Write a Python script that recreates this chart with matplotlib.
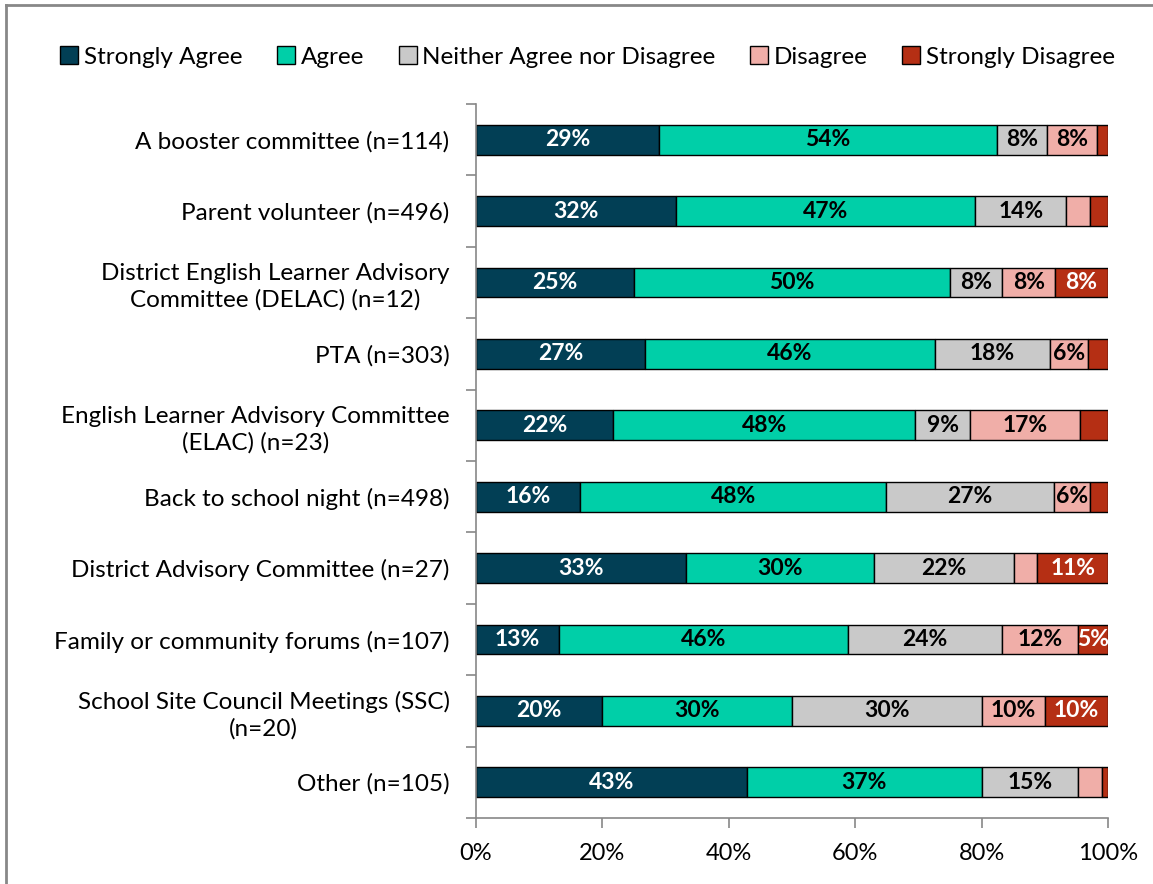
#!/usr/bin/env python3
"""Stacked horizontal bar chart of agreement by meeting type."""

import matplotlib
matplotlib.use("Agg")
import matplotlib.pyplot as plt
from matplotlib.lines import Line2D
from matplotlib.ticker import FuncFormatter, FixedLocator
import numpy as np

categories = [
    "A booster committee (n=114)",
    "Parent volunteer (n=496)",
    "District English Learner Advisory\nCommittee (DELAC) (n=12)",
    "PTA (n=303)",
    "English Learner Advisory Committee\n(ELAC) (n=23)",
    "Back to school night (n=498)",
    "District Advisory Committee (n=27)",
    "Family or community forums (n=107)",
    "School Site Council Meetings (SSC)\n(n=20)",
    "Other (n=105)",
]
series_names = ["Strongly Agree", "Agree", "Neither Agree nor Disagree",
                "Disagree", "Strongly Disagree"]
strongly_agree = [28.9, 31.6, 25.0, 26.7, 21.7, 16.5, 33.3, 13.1, 20.0, 42.9]
agree = [53.5, 47.4, 50.0, 45.9, 47.8, 48.4, 29.6, 45.8, 30.0, 37.1]
neutral = [7.9, 14.4, 8.3, 18.2, 8.7, 26.6, 22.2, 24.3, 30.0, 15.2]
disagree = [7.9, 3.8, 8.3, 6.0, 17.4, 5.7, 3.7, 12.1, 10.0, 3.8]
strongly_disagree = [1.8, 2.8, 8.4, 3.2, 4.4, 2.8, 11.2, 4.7, 10.0, 1.0]

colors = ["#023F55", "#00CFA8", "#C9C9C9", "#F0AEA8", "#B52F14"]
text_colors = ["white", "black", "black", "black", "white"]

plt.rcParams['font.family'] = ['Lato', 'DejaVu Sans']

fig = plt.figure(figsize=(11.53, 8.84), dpi=100)
ax = fig.add_axes([476 / 1153, 1 - 818 / 884, (1108 - 476) / 1153, (818 - 104) / 884])

data = [strongly_agree, agree, neutral, disagree, strongly_disagree]
ypos = np.arange(len(categories))
left = np.zeros(len(categories))
handles = []
for vals, name, col, tcol in zip(data, series_names, colors, text_colors):
    vals = np.array(vals)
    ax.barh(ypos, vals, left=left, height=0.42, color=col,
            edgecolor='black', linewidth=1.0, label=name)
    for y, v, l in zip(ypos, vals, left):
        if v >= 4.5:
            ax.text(l + v / 2, y, f"{v:.0f}%", ha='center', va='center',
                    color=tcol, fontsize=16.5, fontweight='bold')
    left += vals
    handles.append(Line2D([], [], marker='s', linestyle='none', markersize=13,
                          markerfacecolor=col, markeredgecolor='black',
                          markeredgewidth=1.0))

ax.set_xlim(0, 100)
ax.set_ylim(len(categories) - 0.5, -0.5)
ax.set_yticks(ypos)
ax.set_yticklabels(categories, fontsize=17.5, multialignment='center', linespacing=1.3)
ax.yaxis.set_minor_locator(FixedLocator(np.arange(-0.5, len(categories), 1)))
ax.tick_params(axis='y', which='major', length=0, pad=19)
ax.tick_params(axis='y', which='minor', length=7, width=1.2, color='#888888')
ax.set_xticks(np.arange(0, 101, 20))
ax.xaxis.set_major_formatter(FuncFormatter(lambda v, p: f"{v:.0f}%"))
ax.tick_params(axis='x', length=7, width=1.2, color='#888888', labelsize=17, pad=11)
for side in ['top', 'right']:
    ax.spines[side].set_visible(False)
for side in ['left', 'bottom']:
    ax.spines[side].set_color('#888888')
    ax.spines[side].set_linewidth(1.2)

fig.legend(handles, series_names, loc='center', bbox_to_anchor=(586 / 1153, 1 - 57 / 884),
           ncol=5, frameon=False, fontsize=17.5, handletextpad=0.1,
           columnspacing=1.3, handlelength=1.0)

# chart border (left and top visible)
fig.add_artist(Line2D([6 / 1153, 6 / 1153], [0, 1 - 5 / 884], transform=fig.transFigure,
                      color='#888888', linewidth=2))
fig.add_artist(Line2D([6 / 1153, 1], [1 - 5 / 884, 1 - 5 / 884], transform=fig.transFigure,
                      color='#888888', linewidth=2))

fig.savefig("out.png", dpi=100)
